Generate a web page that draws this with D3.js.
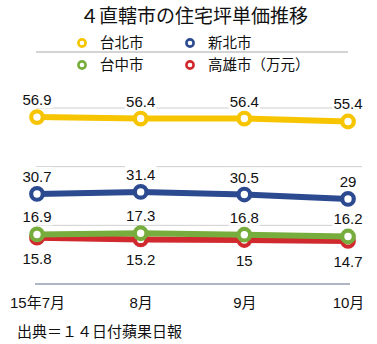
<!DOCTYPE html>
<html>
<head>
<meta charset="utf-8">
<script src="https://cdn.jsdelivr.net/npm/d3@7"></script>
<style>
  html, body { margin: 0; padding: 0; background: #fff; }
  svg { display: block; }
  text { font-family: "Liberation Sans", "Noto Sans CJK JP", sans-serif; fill: #111; }
</style>
</head>
<body>
<div id="chart"></div>
<script>
// Monthly price per ping (万元) for the four special municipalities
const months = ["15年7月", "8月", "9月", "10月"];
const taipei = [56.9, 56.4, 56.4, 55.4];
const newTaipei = [30.7, 31.4, 30.5, 29];
const taichung = [16.9, 17.3, 16.8, 16.2];
const kaohsiung = [15.8, 15.2, 15, 14.7];
const gridValues = [20, 40, 60];

const seriesNames = ["台北市", "新北市", "台中市", "高雄市（万元）"];
const seriesColors = ["#f6c500", "#2c4a90", "#77ad3c", "#d12a2e"];

const W = 377, H = 344;
const svg = d3.select("#chart").append("svg").attr("width", W).attr("height", H);

const x = d3.scalePoint().domain(months).range([37, 348]);
const y = d3.scaleLinear().domain([0, 60]).range([284, 108]);

// Title
svg.append("text")
  .attr("x", 194).attr("y", 23)
  .attr("text-anchor", "middle")
  .style("font-family", "'Noto Sans CJK JP', sans-serif")
  .style("font-size", "19px")
  .text("４直轄市の住宅坪単価推移");

// Legend (two rows, split by a rule)
const legend = [
  { name: seriesNames[0], color: seriesColors[0], lx: 82, ly: 43 },
  { name: seriesNames[1], color: seriesColors[1], lx: 190, ly: 43 },
  { name: seriesNames[2], color: seriesColors[2], lx: 82, ly: 65 },
  { name: seriesNames[3], color: seriesColors[3], lx: 190, ly: 65 }
];
svg.append("line")
  .attr("x1", 36).attr("x2", 348).attr("y1", 52).attr("y2", 52)
  .attr("stroke", "#a8a8a8").attr("stroke-width", 1);
const lg = svg.append("g").selectAll("g").data(legend).join("g");
lg.append("circle")
  .attr("cx", d => d.lx).attr("cy", d => d.ly).attr("r", 3.6)
  .attr("fill", "#fff").attr("stroke", d => d.color).attr("stroke-width", 2.6);
lg.append("text")
  .attr("x", d => d.lx + 18).attr("y", d => d.ly + 5)
  .style("font-family", "'Noto Sans CJK JP', sans-serif")
  .style("font-size", "14.5px")
  .text(d => d.name);

// Horizontal grid lines
svg.append("g").selectAll("line").data(gridValues).join("line")
  .attr("x1", 36).attr("x2", 362)
  .attr("y1", d => y(d)).attr("y2", d => y(d))
  .attr("stroke", "#cfcfcf").attr("stroke-width", 1);

// Bottom axis
const axis = svg.append("g").attr("transform", `translate(0,${y(0)})`)
  .call(d3.axisBottom(x).tickSize(0).tickPadding(0));
axis.select(".domain").remove();
axis.append("line").attr("x1", 35).attr("x2", 350)
  .attr("stroke", "#5d6a88").attr("stroke-width", 1);
axis.selectAll(".tick text")
  .attr("y", 24).attr("dy", 0)
  .style("font-family", "'Liberation Sans', 'Noto Sans CJK JP', sans-serif")
  .style("font-size", "15px").style("fill", "#111");

// Series lines + markers (Kaohsiung drawn first so Taichung sits on top)
const series = [
  { values: kaohsiung, color: seriesColors[3], labelDy: 26 },
  { values: taichung, color: seriesColors[2], labelDy: -12 },
  { values: newTaipei, color: seriesColors[1], labelDy: -12 },
  { values: taipei, color: seriesColors[0], labelDy: -12 }
];
const line = d3.line().x((d, i) => x(months[i])).y(d => y(d));

const marks = svg.append("g");
series.forEach(s => {
  marks.append("path")
    .attr("d", line(s.values))
    .attr("fill", "none").attr("stroke", s.color)
    .attr("stroke-width", 6).attr("stroke-linejoin", "round");
  marks.append("g").selectAll("circle").data(s.values).join("circle")
    .attr("cx", (d, i) => x(months[i])).attr("cy", d => y(d)).attr("r", 5.8)
    .attr("fill", "#fff").attr("stroke", s.color).attr("stroke-width", 4.2);
});

// Value labels with white backing
const labels = svg.append("g");
series.forEach(s => {
  s.values.forEach((v, i) => {
    const g = labels.append("g");
    const t = g.append("text")
      .attr("x", x(months[i])).attr("y", y(v) + s.labelDy)
      .attr("text-anchor", "middle")
      .style("font-size", "15px")
      .text(v);
    if (s.labelDy < 0) {
      const b = t.node().getBBox();
      g.insert("rect", "text")
        .attr("x", b.x - 1).attr("y", b.y - 1)
        .attr("width", b.width + 2).attr("height", b.height + 1)
        .attr("fill", "#fff");
    }
  });
});

// Source note
svg.append("text")
  .attr("x", 17).attr("y", 337)
  .style("font-family", "'Noto Sans CJK JP', sans-serif")
  .style("font-size", "15px")
  .text("出典＝１４日付蘋果日報");
</script>
</body>
</html>
